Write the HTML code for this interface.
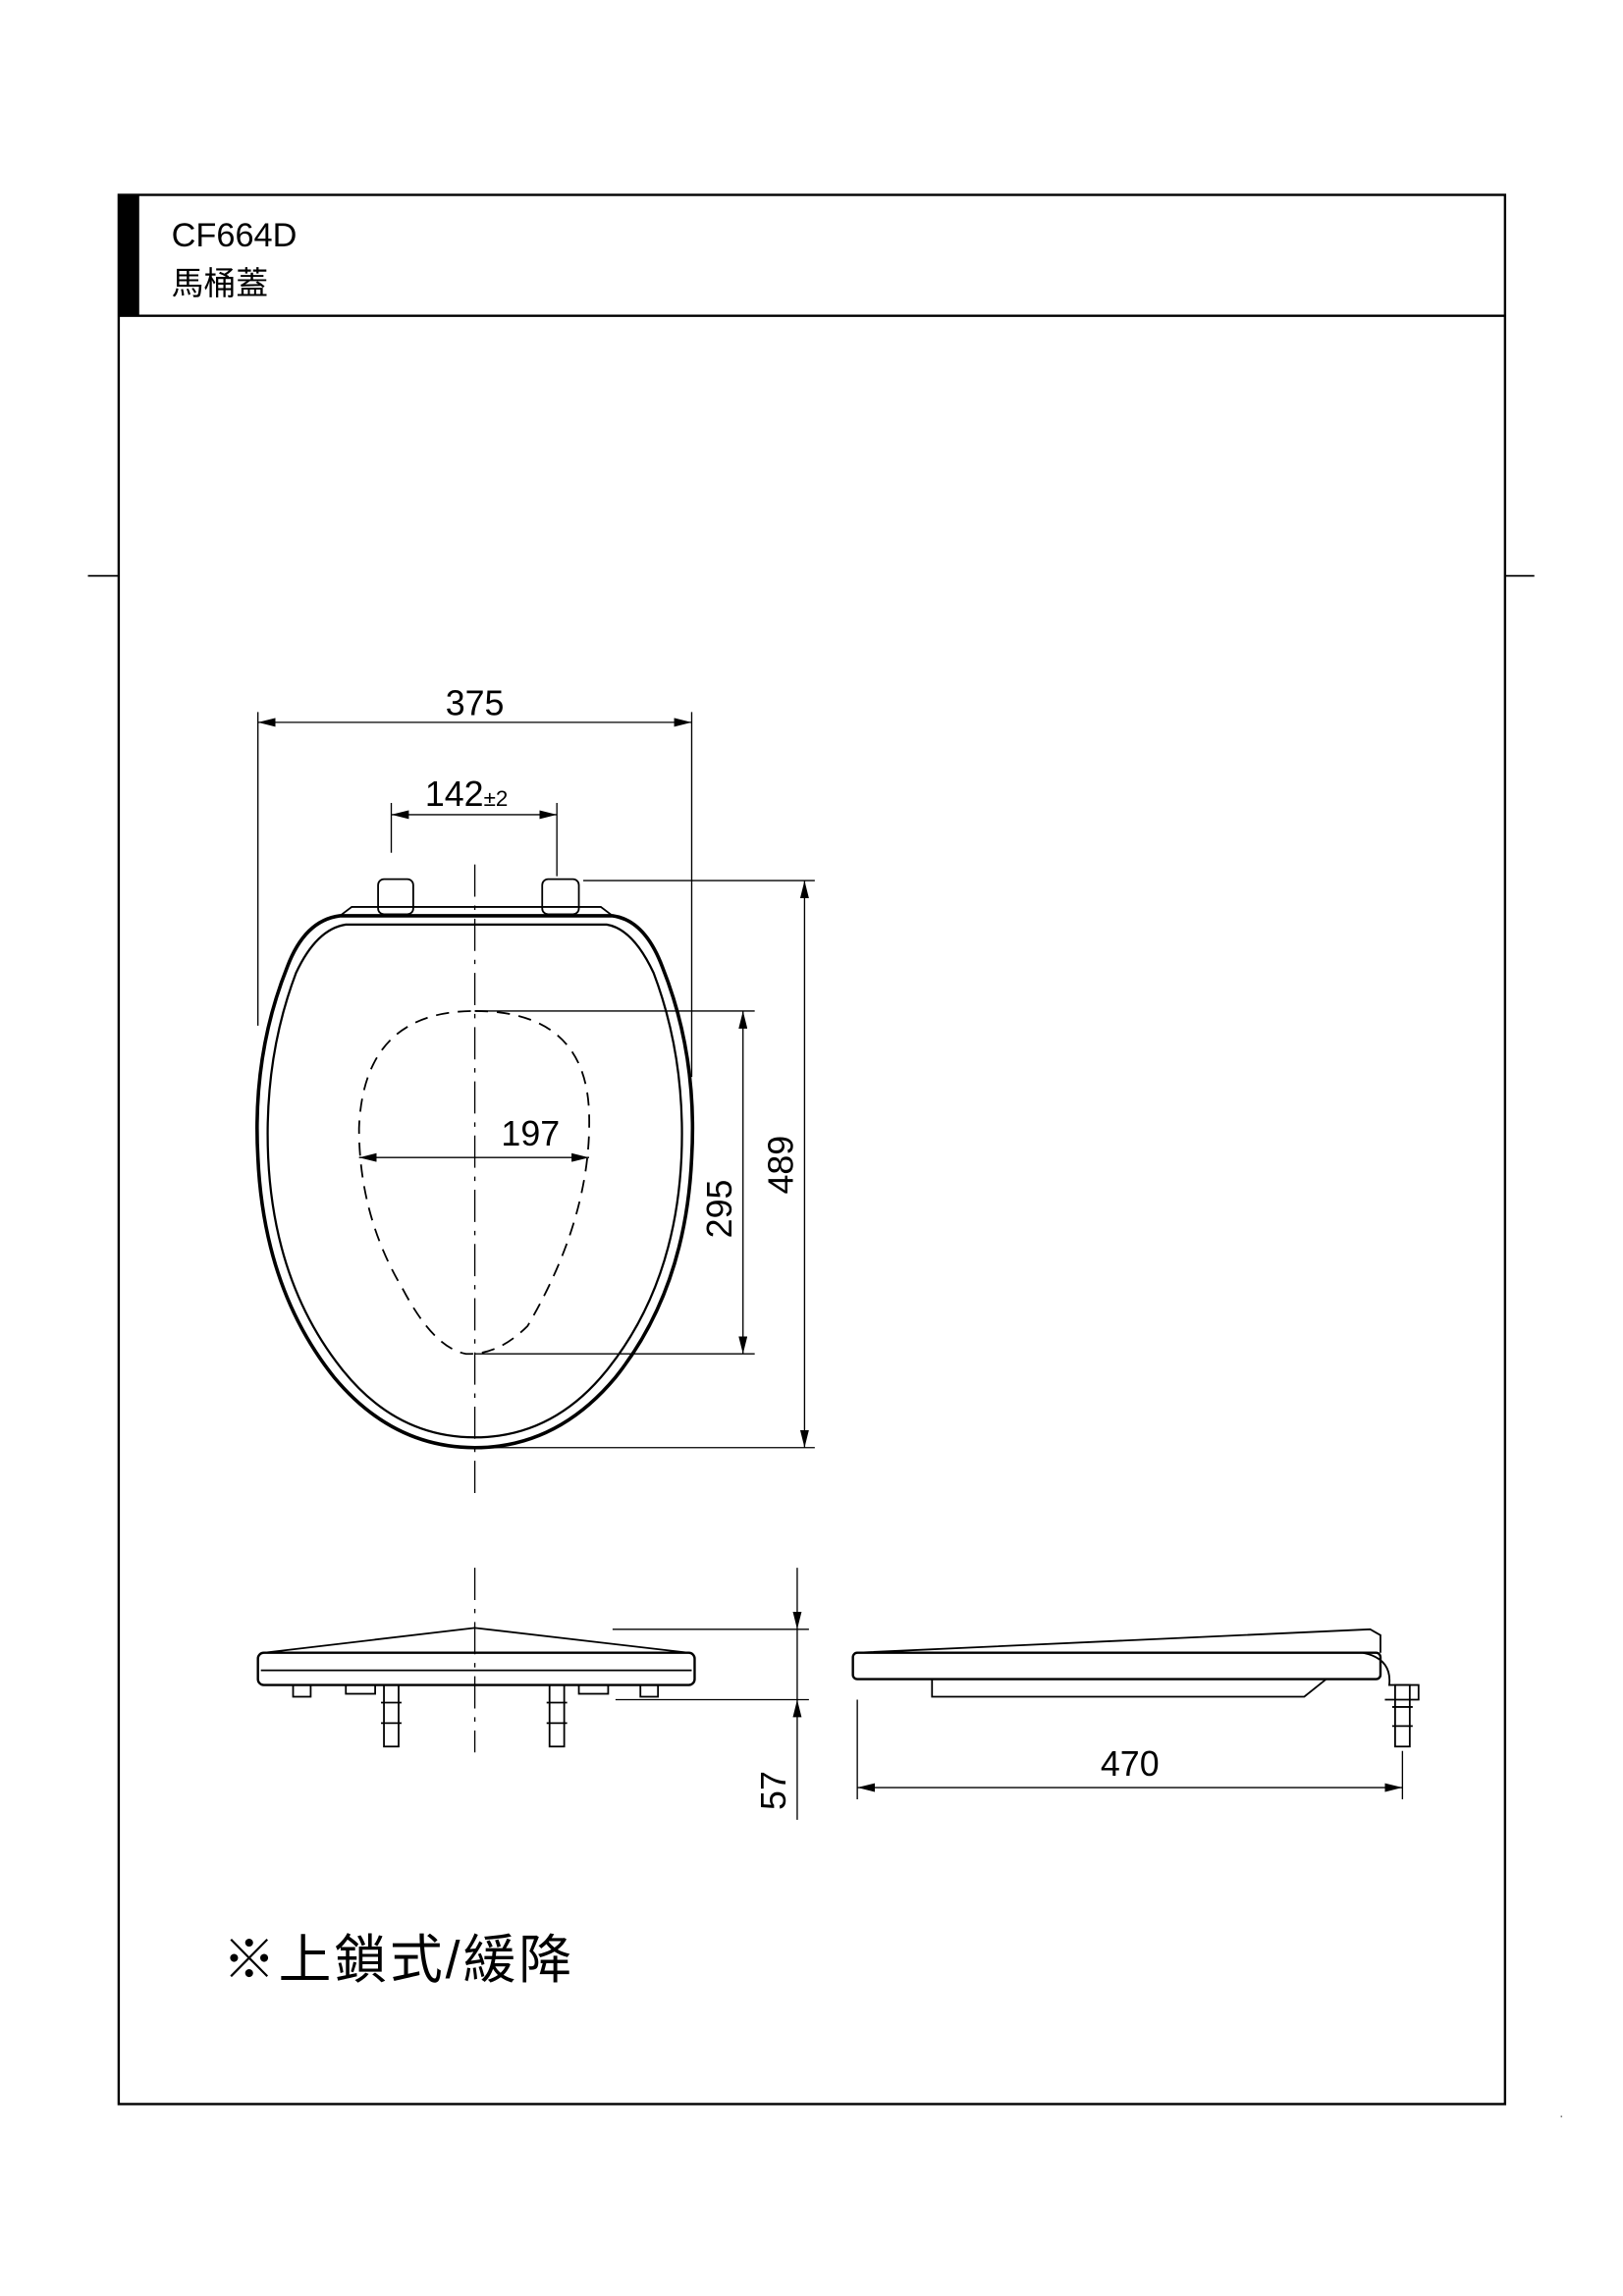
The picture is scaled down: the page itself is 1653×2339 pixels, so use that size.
<!DOCTYPE html>
<html><head><meta charset="utf-8"><style>
html,body{margin:0;padding:0;background:#fff;}
svg{display:block;}
text{font-family:"Liberation Sans","Noto Sans CJK TC",sans-serif;fill:#000;}
</style></head><body>
<svg width="1653" height="2339" viewBox="0 0 1107.5 1567" preserveAspectRatio="none" xmlns="http://www.w3.org/2000/svg">
<defs>
<marker id="a" viewBox="0 0 12 6" refX="12" refY="3" markerWidth="12" markerHeight="6" orient="auto-start-reverse" markerUnits="userSpaceOnUse"><path d="M0,0 L12,3 L0,6 z" fill="#000"/></marker>
</defs>
<g fill="none" stroke="#000">
<rect x="81" y="133" width="946" height="1303" stroke-width="1.6"/>
<line x1="81" y1="215.5" x2="1027" y2="215.5" stroke-width="1.6"/>
<line x1="60" y1="393" x2="81" y2="393" stroke-width="1.2"/>
<line x1="1027" y1="393" x2="1047" y2="393" stroke-width="1.2"/>
</g>
<rect x="81" y="133" width="14" height="82" fill="#000"/>
<text x="117" y="168" font-size="23">CF664D</text>
<text x="117" y="201" font-size="22">馬桶蓋</text>

<g fill="none" stroke="#000" stroke-width="1.2">
<path d="M232,625 L418,625 Q440,628 452,660 Q476,720 472,790 Q468,880 420,940 Q380,988 324,988 Q268,988 228,940 Q180,880 176,790 Q172,720 196,660 Q208,628 232,625 Z" stroke-width="2.4"/>
<path d="M236,631 L414,631 Q432,634 446,664 Q468,722 465,790 Q461,876 415,934 Q378,981 324,981 Q270,981 233,934 Q187,876 183,790 Q180,722 202,664 Q216,634 236,631 Z" stroke-width="1.5"/>
<rect x="258" y="600" width="24" height="24" rx="4"/>
<rect x="370" y="600" width="25" height="24" rx="4"/>
<path d="M232,625 L240,619 L410,619 L418,625"/>
<path d="M324,690 Q400,690 402,760 Q404,830 360,905 Q340,925 318,924 Q296,920 275,880 Q245,830 245,770 Q248,690 324,690 Z" stroke-dasharray="9,6"/>
<line x1="324" y1="590" x2="324" y2="1020" stroke-dasharray="22,6,3,6" stroke-width="0.9"/>
<line x1="324" y1="1070" x2="324" y2="1196" stroke-dasharray="22,6,3,6" stroke-width="0.9"/>
</g>
<g stroke="#000" stroke-width="0.9" fill="none">
<line x1="176" y1="486" x2="176" y2="700"/><line x1="472" y1="486" x2="472" y2="735"/>
<line x1="176" y1="493" x2="472" y2="493" marker-start="url(#a)" marker-end="url(#a)"/>
<line x1="267" y1="548" x2="267" y2="582"/><line x1="380" y1="548" x2="380" y2="598"/>
<line x1="267" y1="556" x2="380" y2="556" marker-start="url(#a)" marker-end="url(#a)"/>
<line x1="245" y1="790" x2="402" y2="790" marker-start="url(#a)" marker-end="url(#a)"/>
<line x1="324" y1="690" x2="515" y2="690"/><line x1="324" y1="924" x2="515" y2="924"/>
<line x1="507" y1="690" x2="507" y2="924" marker-start="url(#a)" marker-end="url(#a)"/>
<line x1="398" y1="601" x2="556" y2="601"/><line x1="330" y1="988" x2="556" y2="988"/>
<line x1="549" y1="601" x2="549" y2="988" marker-start="url(#a)" marker-end="url(#a)"/>
</g>
<text x="324" y="488" font-size="24" text-anchor="middle">375</text>
<text x="290" y="550" font-size="24">142<tspan font-size="15">±2</tspan></text>
<text x="362" y="782" font-size="24" text-anchor="middle">197</text>
<text transform="translate(499,825) rotate(-90)" font-size="24" text-anchor="middle">295</text>
<text transform="translate(541,795) rotate(-90)" font-size="24" text-anchor="middle">489</text>

<g fill="none" stroke="#000" stroke-width="1.2">
<path d="M180,1128 L324,1111 L470,1128"/>
<rect x="176" y="1128" width="298" height="22" rx="4" stroke-width="1.6"/>
<line x1="178" y1="1140" x2="472" y2="1140"/>
<rect x="200" y="1150" width="12" height="8"/><rect x="236" y="1150" width="20" height="6"/>
<rect x="395" y="1150" width="20" height="6"/><rect x="437" y="1150" width="12" height="8"/>
<rect x="262" y="1150" width="10" height="42"/><rect x="375" y="1150" width="10" height="42"/>
<line x1="260" y1="1162" x2="274" y2="1162"/><line x1="373" y1="1162" x2="387" y2="1162"/>
<line x1="260" y1="1176" x2="274" y2="1176"/><line x1="373" y1="1176" x2="387" y2="1176"/>
</g>
<g stroke="#000" stroke-width="0.9" fill="none">
<line x1="418" y1="1112" x2="552" y2="1112"/><line x1="420" y1="1160" x2="552" y2="1160"/>
<line x1="544" y1="1070" x2="544" y2="1112" marker-end="url(#a)"/>
<line x1="544" y1="1242" x2="544" y2="1160" marker-end="url(#a)"/>
<line x1="544" y1="1112" x2="544" y2="1160"/>
</g>
<text transform="translate(536,1222) rotate(-90)" font-size="24" text-anchor="middle">57</text>

<g fill="none" stroke="#000" stroke-width="1.2">
<path d="M584,1128 L935,1112 L942,1116 L942,1128"/>
<rect x="582" y="1128" width="360" height="18" rx="3" stroke-width="1.6"/>
<path d="M930,1128 Q950,1132 948,1150 L968,1150 L968,1160 L945,1160"/>
<path d="M636,1146 L636,1158 L890,1158 L905,1146"/>
<rect x="952" y="1150" width="10" height="42"/>
<line x1="950" y1="1165" x2="964" y2="1165"/><line x1="950" y1="1178" x2="964" y2="1178"/>
</g>
<g stroke="#000" stroke-width="0.9" fill="none">
<line x1="585" y1="1160" x2="585" y2="1228"/><line x1="957" y1="1195" x2="957" y2="1228"/>
<line x1="585" y1="1220" x2="957" y2="1220" marker-start="url(#a)" marker-end="url(#a)"/>
</g>
<text x="771" y="1212" font-size="24" text-anchor="middle">470</text>

<text x="152" y="1350" font-size="36" letter-spacing="2">※上鎖式/緩降</text>
<rect x="1065" y="1444" width="1" height="1" fill="#666"/>
</svg>
</body></html>
